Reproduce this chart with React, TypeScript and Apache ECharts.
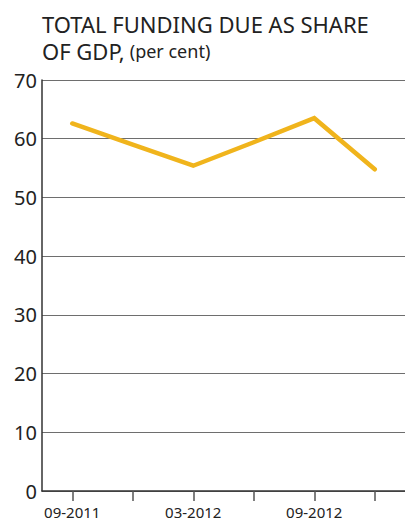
import React, { useEffect, useRef } from "react";
import * as echarts from "echarts";

const categories = ["09-2011", "12-2011", "03-2012", "06-2012", "09-2012", "12-2012"];
const fundingShare = [62.6, 59.0, 55.4, 59.4, 63.5, 54.8];
const titleLine1 = "TOTAL FUNDING DUE AS SHARE";
const titleLine2a = "OF GDP,";
const titleLine2b = "(per cent)";

export default function App() {
  const ref = useRef<HTMLDivElement>(null);
  useEffect(() => {
    if (!ref.current) return;
    const chart = echarts.init(ref.current, null, { renderer: "svg" });
    chart.setOption({
      animation: false,
      backgroundColor: "#ffffff",
      title: [
        {
          left: 42,
          top: 13,
          padding: 0,
          text: titleLine1,
          textStyle: { fontFamily: "Noto Sans", fontSize: 22, fontWeight: "normal", color: "#222222", lineHeight: 22 },
        },
        {
          left: 42,
          top: 40,
          padding: 0,
          text: `{a|${titleLine2a}} {b|${titleLine2b}}`,
          textStyle: {
            fontWeight: "normal",
            rich: {
              a: { fontFamily: "Noto Sans", fontSize: 22, fontWeight: "normal", color: "#222222", lineHeight: 22 },
              b: { fontFamily: "Noto Sans", fontSize: 18, fontWeight: "normal", color: "#222222", lineHeight: 22 },
            },
          },
        },
      ],
      grid: { left: 42, right: 0, top: 80, bottom: 33, containLabel: false },
      xAxis: {
        type: "category",
        data: categories,
        boundaryGap: true,
        axisLine: { lineStyle: { color: "#333333", width: 1.5 } },
        axisTick: { show: true, alignWithLabel: true, interval: 0, length: 10, lineStyle: { color: "#555555", width: 1.5 } },
        axisLabel: {
          interval: 1,
          margin: 13,
          fontFamily: "Noto Sans",
          fontSize: 15,
          color: "#222222",
        },
      },
      yAxis: {
        type: "value",
        min: 0,
        max: 70,
        interval: 10,
        axisLine: { show: true, lineStyle: { color: "#333333", width: 1.5 } },
        axisTick: { show: false },
        splitLine: { lineStyle: { color: "#6e6e6e", width: 1.2 } },
        axisLabel: {
          margin: 5,
          fontFamily: "Noto Sans",
          fontSize: 20,
          color: "#222222",
        },
      },
      series: [
        {
          type: "line",
          data: fundingShare,
          symbol: "none",
          lineStyle: { color: "#F0B41C", width: 4.5, cap: "round", join: "miter" },
        },
      ],
    });
    return () => chart.dispose();
  }, []);
  return <div ref={ref} style={{ width: 405, height: 524, position: "absolute", left: 0, top: 0 }} />;
}
